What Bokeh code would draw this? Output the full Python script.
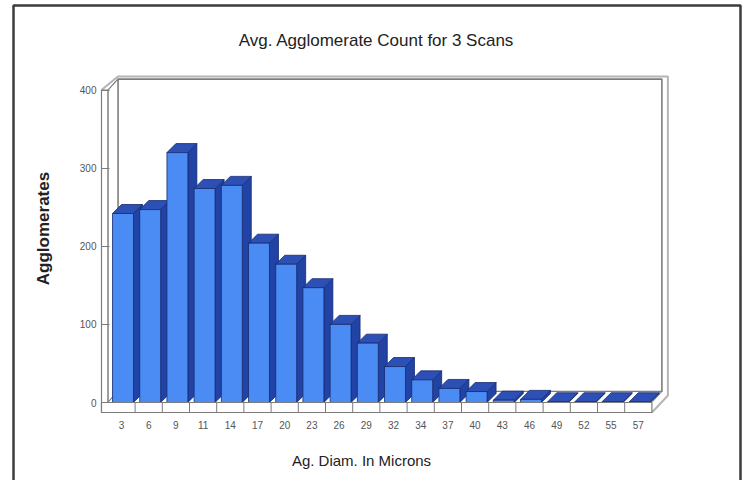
from bokeh.plotting import figure
from bokeh.models import Range1d, LinearAxis, FixedTicker, Label
from bokeh.embed import file_html
from bokeh.resources import INLINE

# ---------------- data ----------------
diameters = ["3", "6", "9", "11", "14", "17", "20", "23", "26", "29",
             "32", "34", "37", "40", "43", "46", "49", "52", "55", "57"]
counts = [242, 247, 320, 274, 278, 204, 177, 147, 100, 76,
          46, 29, 18, 14, 3, 4, 1, 1, 1, 1]
y_ticks = [0, 100, 200, 300, 400]
title_text = "Avg. Agglomerate Count for 3 Scans"
x_title = "Ag. Diam. In Microns"
y_title = "Agglomerates"

# ---------------- geometry (page pixels -> data units) ----------------
W, H = 743, 480
MARGIN = 0
CX0 = 121.0    # page x of first category centre
PXC = 27.2     # px per category
PY0 = 402.0    # page y of count 0
PXV = 0.781    # px per count unit


def xd(px):
    return (px - CX0) / PXC


def yd(py):
    return (PY0 - py) / PXV


def dx(px):
    return px / PXC


def dy(px):
    return px / PXV


n = len(counts)
idx = list(range(n))
x_lo, x_hi = -0.5, n - 0.5
y_top = y_ticks[-1]
XL = xd(101)          # front left edge of the frame
VB = yd(412)          # front bottom edge of the floor strip
BDX, BDV = dx(10), dy(11)   # back wall offset
OUT_DX, OUT_DV = dx(16), dy(13.5)  # outer rim offset

FACE = "#4a8cf4"
SIDE = "#2243a6"
TOP = "#2d50b6"
EDGE = "#152a6e"
GRAY_IN = "#7c7c7c"
GRAY_OUT = "#b4b4b4"

p = figure(width=W, height=H,
           x_range=Range1d(xd(MARGIN), xd(MARGIN + W)),
           y_range=Range1d(yd(MARGIN + H), yd(MARGIN)),
           output_backend="svg", toolbar_location=None,
           min_border=0, x_axis_type=None, y_axis_type=None, title=None)
p.outline_line_color = None
p.background_fill_color = "white"
p.border_fill_color = "white"

# ---------------- 3D frame ----------------
# back wall
p.patch([x_lo + BDX, x_hi + BDX, x_hi + BDX, x_lo + BDX],
        [BDV, BDV, y_top + BDV, y_top + BDV],
        fill_color="white", line_color=GRAY_IN, line_width=1.6)
# left wall
p.patch([x_lo, x_lo, x_lo + BDX, x_lo + BDX],
        [0, y_top, y_top + BDV, BDV],
        fill_color="white", line_color=GRAY_IN, line_width=1.2)
# floor top
p.patch([x_lo, x_hi, x_hi + BDX, x_lo + BDX],
        [0, 0, BDV, BDV],
        fill_color="white", line_color=GRAY_IN, line_width=1.0)
# outer rim
p.line([XL, x_lo + dx(10), x_hi + OUT_DX, x_hi + OUT_DX, x_hi],
       [y_top, y_top + OUT_DV, y_top + OUT_DV, VB + dy(17), VB],
       line_color=GRAY_OUT, line_width=2)

# ---------------- bars ----------------
face_l = [i - 0.33 for i in idx]
face_r = [i + 0.44 for i in idx]
BX, BV = dx(9), dy(9)
xs, ys, cols = [], [], []
for l, r, h in zip(face_l, face_r, counts):
    xs.append([r, r + BX, r + BX, r])
    ys.append([0, BV, h + BV, h])
    cols.append(SIDE)
    xs.append([l, r, r + BX, l + BX])
    ys.append([h, h, h + BV, h + BV])
    cols.append(TOP)
p.patches(xs, ys, fill_color=cols, line_color=EDGE, line_width=0.8)
p.quad(left=face_l, right=face_r, bottom=0, top=counts,
       fill_color=FACE, line_color=EDGE, line_width=0.8)

# ---------------- front strips ----------------
p.quad(left=XL, right=x_lo, bottom=VB, top=y_top,
       fill_color="white", line_color=GRAY_IN, line_width=1.2)
p.quad(left=XL, right=x_hi, bottom=VB, top=0,
       fill_color="white", line_color=GRAY_IN, line_width=1.2)
div_x = [i + 0.5 for i in idx[:-1]]
p.segment(x0=div_x, y0=VB, x1=div_x, y1=0, line_color=GRAY_IN, line_width=1)

# ---------------- axes ----------------
yc = yd(228)
yax = LinearAxis(fixed_location=XL, ticker=FixedTicker(ticks=y_ticks),
                 bounds=(-0.5, 2 * yc + 0.5),
                 axis_label=y_title,
                 axis_line_color=None,
                 major_tick_in=8, major_tick_out=0,
                 major_tick_line_color=GRAY_IN, major_tick_line_width=1.2,
                 minor_tick_line_color=None,
                 major_label_standoff=5,
                 major_label_text_font="Liberation Sans",
                 major_label_text_font_size="10px",
                 major_label_text_color="#555555",
                 axis_label_text_font="Liberation Sans",
                 axis_label_text_font_size="17px",
                 axis_label_text_font_style="bold",
                 axis_label_text_color="#222222",
                 axis_label_standoff=24)
p.add_layout(yax, "left")

xc = xd(361)
xax = LinearAxis(fixed_location=VB, ticker=FixedTicker(ticks=idx),
                 bounds=(2 * xc - (n - 1) - 0.05, n - 1 + 0.05),
                 major_label_overrides={i: d for i, d in zip(idx, diameters)},
                 axis_label=x_title,
                 axis_line_color=None,
                 major_tick_in=0, major_tick_out=0,
                 minor_tick_line_color=None,
                 major_label_standoff=8,
                 major_label_text_font="Liberation Sans",
                 major_label_text_font_size="10px",
                 major_label_text_color="#555555",
                 axis_label_text_font="Liberation Sans",
                 axis_label_text_font_size="15px",
                 axis_label_text_font_style="normal",
                 axis_label_text_color="#222222",
                 axis_label_standoff=20)
p.add_layout(xax, "below")

# ---------------- title ----------------
p.add_layout(Label(x=xd(376), y=yd(40), text=title_text,
                   text_align="center", text_baseline="middle",
                   text_font="Liberation Sans", text_font_size="17px",
                   text_color="#222222"))

# ---------------- page border ----------------
p.line([xd(13), xd(13), xd(740), xd(740)],
       [yd(500), yd(5), yd(5), yd(500)],
       line_color="#3c3c3c", line_width=2.5)

open("out.html", "w").write(file_html(p, INLINE))
